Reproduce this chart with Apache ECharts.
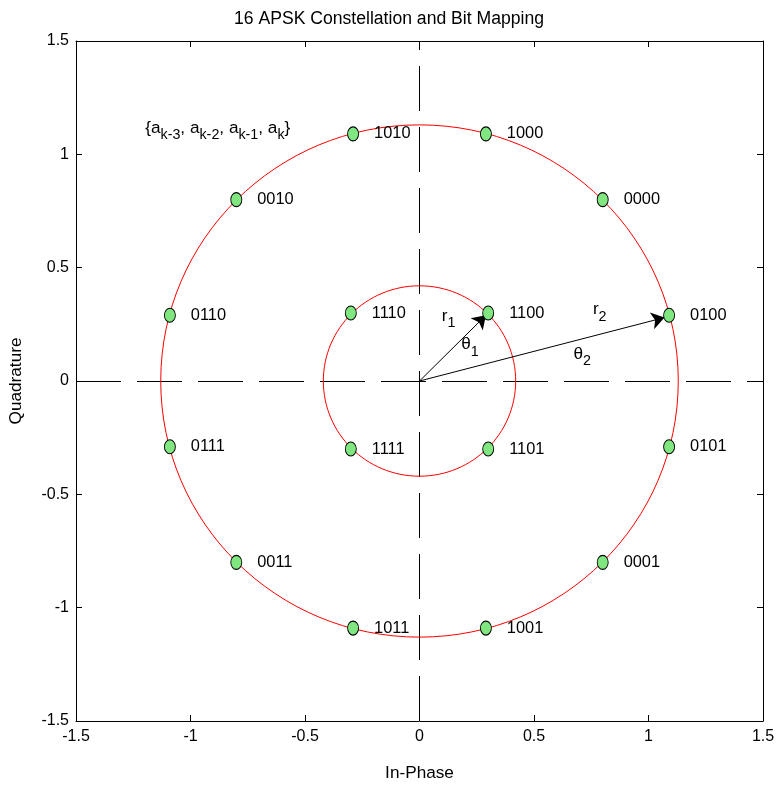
<!DOCTYPE html>
<html>
<head>
<meta charset="utf-8">
<script src="https://cdn.jsdelivr.net/npm/echarts@6/dist/echarts.min.js"></script>
<style>
html,body{margin:0;padding:0;background:#fff;}
#chart{width:778px;height:787px;}
</style>
</head>
<body>
<div id="chart"></div>
<script>
// ---- data ----
var pointI = [0.29, -0.29, 0.8, -0.8, 1.09, -1.09, 1.09, -1.09, 0.8, -0.8, 0.29, -0.29, 0.3, -0.3, 0.3, -0.3];
var pointQ = [1.09, 1.09, 0.8, 0.8, 0.29, 0.29, -0.29, -0.29, -0.8, -0.8, -1.09, -1.09, 0.3, 0.3, -0.3, -0.3];
var bitLabels = ['1000', '1010', '0000', '0010', '0100', '0110', '0101', '0111', '0001', '0011', '1001', '1011', '1100', '1110', '1101', '1111'];
var ringRadii = [0.42, 1.13];
var xTicks = [-1.5, -1, -0.5, 0, 0.5, 1, 1.5];
var yTicks = [-1.5, -1, -0.5, 0, 0.5, 1, 1.5];
var xTickLabels = ['-1.5', '-1', '-0.5', '0', '0.5', '1', '1.5'];
var yTickLabels = ['-1.5', '-1', '-0.5', '0', '0.5', '1', '1.5'];
var hAxisLine = [-1.5, 0, 1.5, 0];
var vAxisLine = [0, -1.5, 0, 1.5];
var arrowStart = [0, 0];
var arrowEnds = [[0.29, 0.29], [1.07, 0.28]];
var annotations = [
  { x: -1.2, y: 1.115, text: '{b|{a}{s|k-3}{b|, a}{s|k-2}{b|, a}{s|k-1}{b|, a}{s|k}}' },
  { x: 0.095, y: 0.285, text: '{b|r}{s|1}' },
  { x: 0.18, y: 0.16, text: '{b|\u03b8}{s|1}' },
  { x: 0.755, y: 0.315, text: '{b|r}{s|2}' },
  { x: 0.67, y: 0.118, text: '{b|\u03b8}{s|2}' }
];

// ---- font pick ----
function hasFont(name) {
  var c = document.createElement('canvas').getContext('2d');
  c.font = '40px monospace';
  var w0 = c.measureText('0000 Quadrature').width;
  c.font = '40px "' + name + '", monospace';
  return c.measureText('0000 Quadrature').width !== w0;
}
var narrow = hasFont('Liberation Sans Narrow');
var FF = narrow ? '"Liberation Sans Narrow", "Liberation Sans", Arial, sans-serif' : '"Liberation Sans", Arial, sans-serif';
var k = narrow ? 1 : 0.84;
var fsTick = Math.round(19 * k * 10) / 10;
var fsBit = Math.round(19.5 * k * 10) / 10;
var fsTitle = Math.round(21 * k * 10) / 10;
var fsName = Math.round(20.5 * k * 10) / 10;
var fsAnn = Math.round(20.5 * k * 10) / 10;
var fsSub = Math.round(17 * k * 10) / 10;

var chart = echarts.init(document.getElementById('chart'));

function fmt(list, labels) {
  return function (v) {
    for (var i = 0; i < list.length; i++) if (Math.abs(list[i] - v) < 1e-9) return labels[i];
    return '';
  };
}

var axisCommon = {
  type: 'value', min: -1.5, max: 1.5, interval: 0.5,
  splitLine: { show: false },
  axisLine: { show: true, onZero: false, lineStyle: { color: '#000', width: 1 } },
  axisTick: { show: true, inside: true, length: 6, lineStyle: { color: '#000' } }
};

var scatterData = pointI.map(function (x, i) { return [x, pointQ[i], bitLabels[i]]; });
var annData = annotations.map(function (a) { return [a.x, a.y, a.text]; });

function snap(v) { return Math.round(v - 0.5) + 0.5; }

var option = {
  backgroundColor: '#fff',
  animation: false,
  title: {
    text: '16 APSK Constellation and Bit Mapping',
    left: 'center', top: 5,
    textStyle: { fontFamily: FF, fontSize: fsTitle, fontWeight: 'normal', color: '#000' }
  },
  grid: { left: 74, right: 15, top: 41, bottom: 60, show: false },
  xAxis: [
    Object.assign({}, axisCommon, {
      position: 'bottom',
      name: 'In-Phase', nameLocation: 'middle', nameGap: 44,
      nameTextStyle: { fontFamily: FF, fontSize: fsName, color: '#000' },
      axisLabel: { margin: 8, fontFamily: FF, fontSize: fsTick, color: '#000', formatter: fmt(xTicks, xTickLabels), showMinLabel: true, showMaxLabel: true }
    }),
    Object.assign({}, axisCommon, { position: 'top', axisLabel: { show: false } })
  ],
  yAxis: [
    Object.assign({}, axisCommon, {
      position: 'left',
      name: 'Quadrature', nameLocation: 'middle', nameGap: 51,
      nameTextStyle: { fontFamily: FF, fontSize: fsName, color: '#000' },
      axisLabel: { margin: 7, fontFamily: FF, fontSize: fsTick, color: '#000', formatter: fmt(yTicks, yTickLabels), showMinLabel: true, showMaxLabel: true }
    }),
    Object.assign({}, axisCommon, { position: 'right', axisLabel: { show: false } })
  ],
  series: [
    {
      type: 'custom', silent: true, z: 1,
      data: [hAxisLine, vAxisLine],
      renderItem: function (params, api) {
        var p1 = api.coord([api.value(0), api.value(1)]);
        var p2 = api.coord([api.value(2), api.value(3)]);
        var horiz = Math.abs(p1[1] - p2[1]) < 0.5;
        var x1 = horiz ? p1[0] : snap(p1[0]);
        var x2 = horiz ? p2[0] : snap(p2[0]);
        var y1 = horiz ? snap(p1[1]) : p1[1];
        var y2 = horiz ? snap(p2[1]) : p2[1];
        return {
          type: 'line',
          shape: { x1: x1, y1: y1, x2: x2, y2: y2 },
          style: { stroke: '#000', lineWidth: 1, lineDash: [45, 16] }
        };
      }
    },
    {
      type: 'custom', silent: true, z: 2,
      data: ringRadii.map(function (r) { return [0, 0, r]; }),
      renderItem: function (params, api) {
        var c = api.coord([api.value(0), api.value(1)]);
        var r = api.value(2);
        var rx = api.size([r, 0])[0];
        var ry = api.size([0, r])[1];
        return {
          type: 'ellipse',
          shape: { cx: c[0], cy: c[1], rx: rx, ry: ry },
          style: { fill: 'none', stroke: '#ff0000', lineWidth: 1 }
        };
      }
    },
    {
      type: 'lines', coordinateSystem: 'cartesian2d', silent: true, z: 3,
      symbol: ['none', 'arrow'], symbolSize: 13,
      lineStyle: { color: '#000', width: 1, opacity: 1 },
      data: arrowEnds.map(function (e) { return { coords: [arrowStart, e] }; })
    },
    {
      type: 'scatter', z: 4, data: scatterData,
      symbol: 'circle', symbolSize: [11, 14],
      itemStyle: { color: '#80e680', borderColor: '#000', borderWidth: 1, opacity: 1 },
      label: {
        show: true, position: 'right', distance: 15,
        formatter: function (p) { return p.value[2]; },
        fontFamily: FF, fontSize: fsBit, color: '#000'
      }
    },
    {
      type: 'scatter', z: 5, data: annData, symbolSize: 1, silent: true,
      itemStyle: { opacity: 1, color: 'rgba(0,0,0,0)' },
      label: {
        show: true, position: 'right', distance: 0, color: '#000', opacity: 1,
        formatter: function (p) { return p.value[2]; },
        fontFamily: FF, fontSize: fsAnn, lineHeight: 28,
        rich: {
          b: { fontFamily: FF, fontSize: fsAnn, color: '#000' },
          s: { fontFamily: FF, fontSize: fsSub, color: '#000', verticalAlign: 'bottom', lineHeight: 28 }
        }
      }
    }
  ]
};
chart.setOption(option);
</script>
</body>
</html>
